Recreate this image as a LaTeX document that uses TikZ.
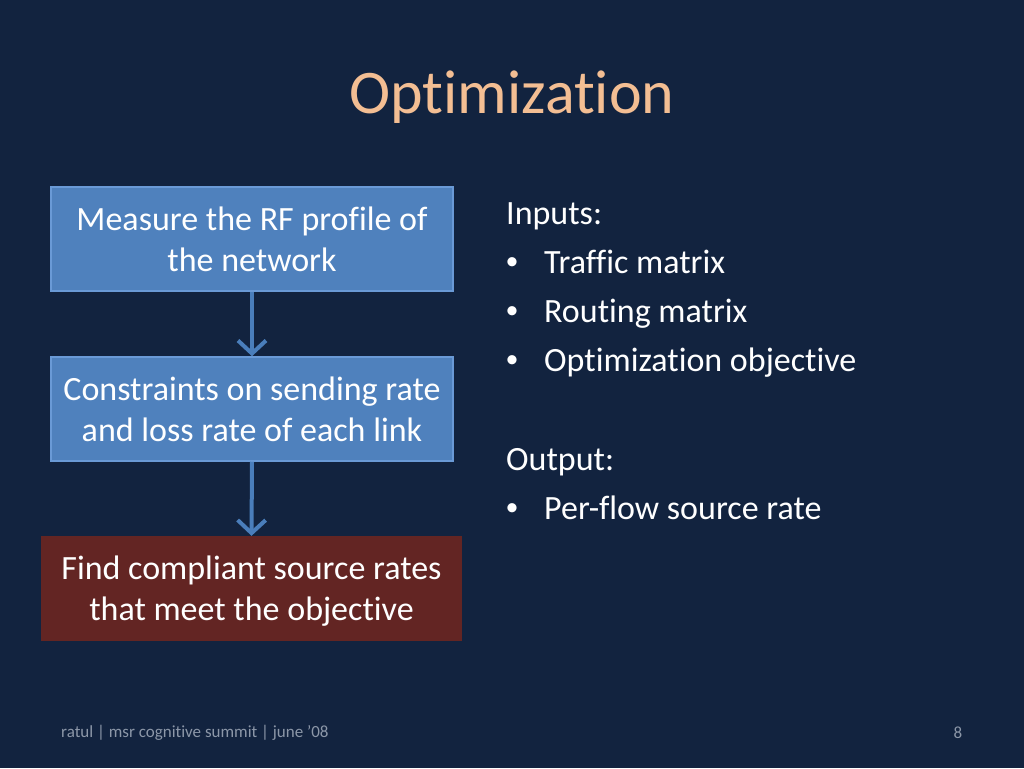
\documentclass[tikz,border=0pt]{standalone}
\usepackage{fontspec}
\setmainfont{Carlito}[Ligatures=NoCommon]
\usetikzlibrary{arrows.meta}
\definecolor{bg}{HTML}{12233F}
\definecolor{ttl}{HTML}{F3BE93}
\definecolor{bluebox}{HTML}{4F81BD}
\definecolor{blueedge}{HTML}{6A9AD6}
\definecolor{redbox}{HTML}{632523}
\definecolor{arr}{HTML}{4A7EBB}
\definecolor{foot}{HTML}{8C97A8}
\tikzset{
 box/.style={draw=blueedge,line width=1.5pt,fill=bluebox,minimum width=402pt,minimum height=104pt,align=center,text=white,font=\fontsize{34}{41}\selectfont},
 rbox/.style={fill=redbox,minimum width=421pt,minimum height=105pt,align=center,text=white,font=\fontsize{34}{41}\selectfont},
 flow/.style={draw=arr,line width=4pt,-{Straight Barb[length=13pt,width=28pt,line width=4pt]}},
 txt/.style={anchor=west,text=white,font=\fontsize{34}{40}\selectfont,inner sep=0pt,text height=23pt,text depth=7pt},
 bul/.style={anchor=center,text=white,font=\fontsize{26}{30}\selectfont,inner sep=0pt}
}
\begin{document}
\begin{tikzpicture}[x=1pt,y=-1pt]
\fill[bg] (0,0) rectangle (1024,768);
\useasboundingbox (0,0) rectangle (1024,768);
\node[text=ttl,font=\fontsize{62}{70}\selectfont] (title) at (512,97) {Optimization};
\node[box] (b1) at (252,239) {Measure the RF profile of\\the network};
\node[box] (b2) at (252,409) {Constraints on sending rate\\and loss rate of each link};
\node[rbox,text depth=-6pt] (b3) at (251.5,588.5) {Find compliant source rates\\that meet the objective};
\draw[flow] (b1.south) -- (b2.north);
\draw[flow] (b2.south) -- (b3.north);
\node[txt] (in) at (506,216) {Inputs:};
\node[bul] (d1) at (512,264) {•};\node[txt] (t1) at (544,265) {Traffic matrix};
\node[bul] (d2) at (512,313) {•};\node[txt] (t2) at (544,314) {Routing matrix};
\node[bul] (d3) at (512,362) {•};\node[txt] (t3) at (544,363) {Optimization objective};
\node[txt] (out) at (506,462) {Output:};
\node[bul] (d4) at (512,510) {•};\node[txt] (t4) at (544,511) {Per-flow source rate};
\node[anchor=west,text=foot,font=\fontsize{17}{20}\selectfont,inner sep=0pt] (f1) at (61,733) {ratul | msr cognitive summit | june '08};
\node[text=foot,font=\fontsize{17}{20}\selectfont,inner sep=0pt] (f2) at (958,733) {8};
\end{tikzpicture}
\end{document}
